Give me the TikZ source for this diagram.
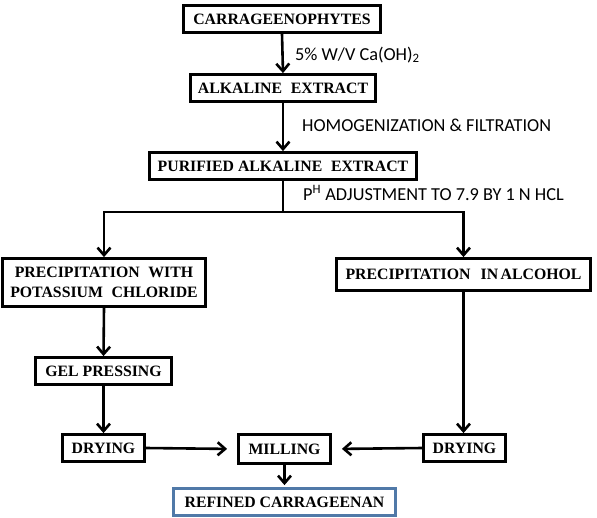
\documentclass[tikz,border=0pt]{standalone}
\usepackage{fontspec}
\setmainfont{Liberation Serif}
\newfontfamily\labfont{Carlito}
\usetikzlibrary{arrows.meta}
\definecolor{refblue}{HTML}{5079A8}
\tikzset{
  stepbox/.style={draw=black, line width=2.8pt, inner sep=0pt, align=center,
    font=\bfseries\fontsize{15.8}{20}\selectfont},
  flow/.style={line width=2.6pt, -{Straight Barb[length=7.5pt,width=13pt,line width=2.6pt]}},
  plain/.style={line width=2.6pt},
  lab/.style={anchor=west, inner sep=0pt, font=\labfont\fontsize{18.3}{20}\selectfont}
}
\begin{document}
\begin{tikzpicture}[x=1pt,y=-1pt]
\useasboundingbox (0,0) rectangle (597,517);
\node[stepbox, minimum width=197pt, minimum height=27pt] (carr) at (282,19) {CARRAGEENOPHYTES};
\node[stepbox, minimum width=185pt, minimum height=27pt] (alk) at (283,88) {ALKALINE\hspace{0.3em} EXTRACT};
\node[stepbox, minimum width=267pt, minimum height=27pt] (pur) at (283,166) {PURIFIED ALKALINE\hspace{0.3em} EXTRACT};
\node[stepbox, minimum width=203pt, minimum height=48pt] (preck) at (104,282.5) {PRECIPITATION\hspace{0.3em} WITH\\POTASSIUM\hspace{0.3em} CHLORIDE};
\node[stepbox, minimum width=254pt, minimum height=32pt] (preca) at (463.5,274.5) {PRECIPITATION\hspace{0.4em} IN\hspace{-0.1em} ALCOHOL};
\node[stepbox, minimum width=136pt, minimum height=27pt] (gel) at (103.5,371) {GEL PRESSING};
\node[stepbox, minimum width=82pt, minimum height=27pt] (dryl) at (103.5,448) {DRYING};
\node[stepbox, minimum width=92pt, minimum height=29pt] (mill) at (284.5,449) {MILLING};
\node[stepbox, minimum width=82pt, minimum height=27pt] (dryr) at (464.5,448) {DRYING};
\node[stepbox, draw=refblue, minimum width=222pt, minimum height=27pt] (ref) at (284.5,502) {REFINED CARRAGEENAN};
\coordinate (br) at (283,212);
\draw[flow] (carr.south) -- (alk.north);
\draw[flow] (alk.south) -- (pur.north);
\draw[plain] (pur.south) -- (br);
\draw[flow] (br) -| (preck.north);
\draw[flow] (br) -| (preca.north);
\draw[flow] (preck.south) -- (gel.north);
\draw[flow] (gel.south) -- (dryl.north);
\draw[flow] (preca.south) -- (preca.south |- dryr.north);
\draw[flow, shorten >=10pt] (dryl.east) -- (mill.west);
\draw[flow, shorten >=10pt] (dryr.west) -- (mill.east);
\draw[flow, shorten >=2pt] (mill.south) -- (ref.north);
\node[lab] (l1) at (295,55) {5\% W/V Ca(OH)\textsubscript{2}};
\node[lab] (l2) at (302,125) {HOMOGENIZATION \& FILTRATION};
\node[lab] (l3) at (303,193) {P\textsuperscript{H} ADJUSTMENT TO 7.9 BY 1 N HCL};
\end{tikzpicture}
\end{document}
